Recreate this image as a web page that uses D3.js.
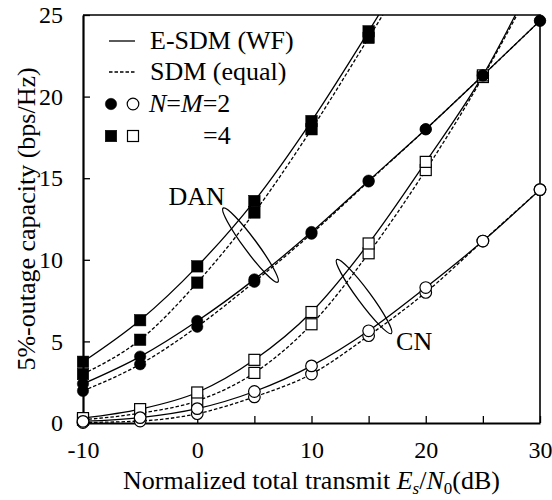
<!DOCTYPE html>
<html>
<head>
<meta charset="utf-8">
<title>5%-outage capacity</title>
<script src="https://d3js.org/d3.v7.min.js"></script>
<style>
body {
	margin: 0;
	background-color: white;
}
svg {
	display: block;
}
.axis line {
	stroke: black;
	stroke-width: 1.3;
}
.axis .domain {
	stroke: black;
	stroke-width: 2.2;
}
.curve {
	fill: none;
	stroke: black;
	stroke-width: 1.3;
}
.dash {
	stroke-dasharray: 3.5,2;
}
</style>
<script>
/* globals d3, window */
(function() {
"use strict";

// data
const snr = [-10, -5, 0, 5, 10, 15, 20, 25, 30];
const xTicks = [-10, -5, 0, 5, 10, 15, 20, 25, 30];
const xLabels = [-10, 0, 10, 20, 30];
const yTicks = [0, 5, 10, 15, 20, 25];

const danM4WF = [3.75, 6.3, 9.6, 13.6, 18.5, 24.0, 29.8];
const danM4Eq = [3.0, 5.1, 8.6, 12.9, 18.0, 23.6, 29.3];
const danM2WF = [2.4, 4.07, 6.25, 8.8, 11.7, 14.85, 18.0, 21.3, 24.65];
const danM2Eq = [1.97, 3.6, 5.9, 8.65, 11.6, 14.8, 18.0, 21.3, 24.65];
const cnM4WF = [0.3, 0.85, 1.87, 3.87, 6.8, 11.0, 16.0, 21.3, 28.0];
const cnM4Eq = [0.2, 0.6, 1.36, 3.07, 6.05, 10.4, 15.5, 21.2, 27.7];
const cnM2WF = [0.1, 0.33, 0.88, 1.93, 3.5, 5.65, 8.3, 11.15, 14.3];
const cnM2Eq = [0.03, 0.12, 0.57, 1.6, 3.0, 5.35, 8.0, 11.15, 14.3];

// drawing order: lower layers first
const series = [
	{values: cnM4Eq, shape: "square", filled: false, dashed: true},
	{values: cnM4WF, shape: "square", filled: false, dashed: false},
	{values: cnM2Eq, shape: "circle", filled: false, dashed: true},
	{values: cnM2WF, shape: "circle", filled: false, dashed: false},
	{values: danM4Eq, shape: "square", filled: true, dashed: true},
	{values: danM4WF, shape: "square", filled: true, dashed: false},
	{values: danM2Eq, shape: "circle", filled: true, dashed: true},
	{values: danM2WF, shape: "circle", filled: true, dashed: false},
];

// group annotations: [label, ellipse centre x (dB), centre y]
const groups = [["DAN", 4.66, 10.9], ["CN", 14.6, 7.75]];

const FONT = "'Liberation Serif', 'Times New Roman', serif";

function drawMarker(g, shape, filled, cx, cy)
{
	const fill = filled ? "black" : "white";
	if (shape === "circle") {
		g.append("circle")
			.attr("cx", cx).attr("cy", cy)
			.attr("r", filled ? 5.7 : 5.8)
			.attr("fill", fill)
			.attr("stroke", "black")
			.attr("stroke-width", filled ? 0.5 : 1.2);
	} else {
		const s = filled ? 11.5 : 11;
		g.append("rect")
			.attr("x", cx - s / 2).attr("y", cy - s / 2)
			.attr("width", s).attr("height", s)
			.attr("fill", fill)
			.attr("stroke", "black")
			.attr("stroke-width", filled ? 0.5 : 1.2);
	}
}

function main()
{
	const width = 552, height = 500;
	const margin = {top: 15, left: 83, right: 12, bottom: 77};
	const w = width - margin.left - margin.right;
	const h = height - margin.top - margin.bottom;

	const x = d3.scaleLinear([-10, 30], [0, w]);
	const y = d3.scaleLinear([0, 25], [h, 0]);

	const svg = d3.select("body").append("svg")
		.attr("width", width)
		.attr("height", height)
		.attr("font-family", FONT)
		.attr("font-size", 26);

	svg.append("defs").append("clipPath")
		.attr("id", "plotclip")
		.append("rect")
		.attr("width", w)
		.attr("height", h);

	const plot = svg.append("g")
		.attr("transform", "translate(" + margin.left + "," + margin.top + ")");

	// frame top and right
	plot.append("path")
		.attr("d", "M0,0H" + w + "V" + h)
		.attr("fill", "none")
		.attr("stroke", "black")
		.attr("stroke-width", 1.6);

	const xAxis = d3.axisBottom(x)
		.tickValues(xTicks)
		.tickSizeInner(-7)
		.tickSizeOuter(0)
		.tickPadding(18)
		.tickFormat(d => xLabels.includes(d) ? d : "");
	const yAxis = d3.axisLeft(y)
		.tickValues(yTicks)
		.tickSizeInner(-7)
		.tickSizeOuter(0)
		.tickPadding(20);

	plot.append("g")
		.attr("class", "axis")
		.attr("transform", "translate(0," + h + ")")
		.call(xAxis)
		.attr("font-family", FONT)
		.attr("font-size", 24);
	plot.append("g")
		.attr("class", "axis")
		.call(yAxis)
		.attr("font-family", FONT)
		.attr("font-size", 24);

	const line = d3.line()
		.x(d => x(d[0]))
		.y(d => y(d[1]))
		.curve(d3.curveMonotoneX);

	const curves = plot.append("g").attr("clip-path", "url(#plotclip)");
	const marks = plot.append("g");

	for (const s of series) {
		const pts = s.values.map((v, i) => [snr[i], v]);
		curves.append("path")
			.attr("class", s.dashed ? "curve dash" : "curve")
			.attr("d", line(pts));
	}
	// markers after all curves, same order
	for (const s of series) {
		const g = marks.append("g");
		s.values.forEach((v, i) => {
			if (v <= 25.2)
				drawMarker(g, s.shape, s.filled, x(snr[i]), y(v));
		});
	}

	// group ellipses and labels
	for (const [, ex, ey] of groups) {
		plot.append("ellipse")
			.attr("transform", "translate(" + x(ex) + "," + y(ey) + ") rotate(53.5)")
			.attr("rx", 46)
			.attr("ry", 6.5)
			.attr("fill", "none")
			.attr("stroke", "black")
			.attr("stroke-width", 1.3);
	}
	const [dan, cn] = groups;
	plot.append("text")
		.attr("x", x(dan[1]) - 82)
		.attr("y", y(dan[2]) - 40)
		.text(dan[0]);
	plot.append("text")
		.attr("x", x(cn[1]) + 32)
		.attr("y", y(cn[2]) + 53)
		.text(cn[0]);

	// legend
	const leg = svg.append("g");
	leg.append("line")
		.attr("x1", 109).attr("x2", 135).attr("y1", 41).attr("y2", 41)
		.attr("class", "curve");
	leg.append("text").attr("x", 150).attr("y", 49).text("E-SDM (WF)");
	leg.append("line")
		.attr("x1", 109).attr("x2", 135).attr("y1", 72).attr("y2", 72)
		.attr("class", "curve dash");
	leg.append("text").attr("x", 150).attr("y", 80).text("SDM (equal)");
	drawMarker(leg, "circle", true, 111, 104);
	drawMarker(leg, "circle", false, 133, 104);
	const t3 = leg.append("text").attr("x", 149).attr("y", 112);
	t3.append("tspan").attr("font-style", "italic").text("N");
	t3.append("tspan").text("=");
	t3.append("tspan").attr("font-style", "italic").text("M");
	t3.append("tspan").text("=2");
	drawMarker(leg, "square", true, 111, 136);
	drawMarker(leg, "square", false, 133, 136);
	leg.append("text").attr("x", 203).attr("y", 144).text("=4");

	// axis titles
	svg.append("text")
		.attr("transform", "translate(35," + (margin.top + h / 2) + ") rotate(-90)")
		.attr("text-anchor", "middle")
		.text("5%-outage capacity (bps/Hz)");

	const xt = svg.append("text")
		.attr("x", margin.left + w / 2)
		.attr("y", 489)
		.attr("text-anchor", "middle");
	xt.append("tspan").text("Normalized total transmit ");
	xt.append("tspan").attr("font-style", "italic").text("E");
	xt.append("tspan").attr("font-style", "italic").attr("font-size", 17).attr("dy", 5).text("s");
	xt.append("tspan").attr("dy", -5).text("/");
	xt.append("tspan").attr("font-style", "italic").text("N");
	xt.append("tspan").attr("font-size", 17).attr("dy", 5).text("0");
	xt.append("tspan").attr("dy", -5).text("(dB)");
}
window.addEventListener("DOMContentLoaded", main);
})();
</script>
</head>
<body>
</body>
</html>
